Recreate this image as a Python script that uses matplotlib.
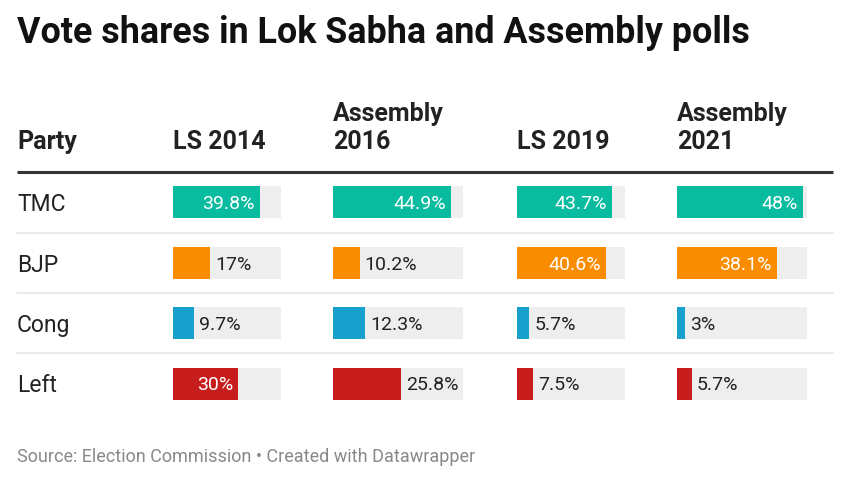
import matplotlib
matplotlib.use('Agg')
from matplotlib import pyplot as plt

parties = ['TMC', 'BJP', 'Cong', 'Left']
columns = ['LS 2014', 'Assembly\n2016', 'LS 2019', 'Assembly\n2021']
ls2014 = [39.8, 17, 9.7, 30]
as2016 = [44.9, 10.2, 12.3, 25.8]
ls2019 = [43.7, 40.6, 5.7, 7.5]
as2021 = [48, 38.1, 3, 5.7]
values = [ls2014, as2016, ls2019, as2021]
colors = ['#09bb9f', '#fa8c00', '#18a1cd', '#c71e1d']

plt.rcParams['font.family'] = ['Roboto', 'DejaVu Sans']

fig = plt.figure(figsize=(8.5, 4.78), dpi=100)
ax = fig.add_axes([0, 0, 1, 1])
ax.set_xlim(0, 850)
ax.set_ylim(478, 0)
ax.axis('off')

# layout in pixels
col_x = [173, 333, 517, 677]
col_w = [108, 130, 108, 130]
row_y = [202, 262.5, 323, 383.5]
bar_h = 32
vmax = 49.5

ax.text(17, 43, 'Vote shares in Lok Sabha and Assembly polls', fontsize=25.8,
        fontweight='bold', color='#111111', va='baseline')

ax.text(17, 149, 'Party', fontsize=18, fontweight='bold', color='#222222', va='baseline')
for x, name in zip(col_x, columns):
    ax.text(x, 149, name, fontsize=18, fontweight='bold', color='#222222',
            va='baseline', linespacing=1.2)

ax.plot([17, 833], [172, 172], color='#333333', lw=2.2, solid_capstyle='butt')
for y in [232.5, 293, 353]:
    ax.plot([17, 833], [y, y], color='#e6e6e6', lw=1.2)

for i, p in enumerate(parties):
    ax.text(17, row_y[i] + 9, p, fontsize=16.5, color='#222222', va='baseline')

for j, col in enumerate(values):
    ax.barh(row_y, [col_w[j]] * len(row_y), left=col_x[j], height=bar_h, color='#eeeeee')
    widths = [v / vmax * col_w[j] for v in col]
    ax.barh(row_y, widths, left=col_x[j], height=bar_h, color=colors)
    for i, v in enumerate(col):
        label = f'{v:g}%'
        end = col_x[j] + widths[i]
        if v >= 30:
            ax.text(end - 5, row_y[i] + 7, label, fontsize=14, color='white',
                    ha='right', va='baseline')
        else:
            ax.text(end + 5, row_y[i] + 7, label, fontsize=14, color='#222222',
                    ha='left', va='baseline')

ax.text(17, 462, 'Source: Election Commission \u2022 Created with Datawrapper', fontsize=13,
        color='#888888', va='baseline')

plt.savefig('out.png', dpi=100)
